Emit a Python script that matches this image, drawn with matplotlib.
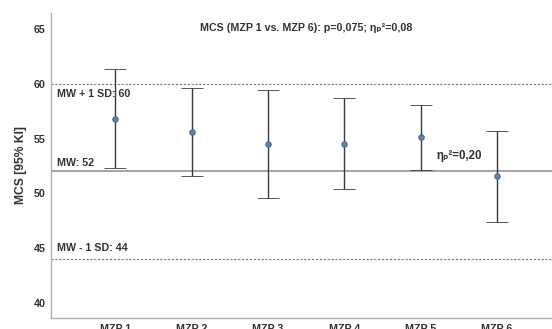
import matplotlib
matplotlib.use("Agg")
import matplotlib.pyplot as plt

plt.rcParams['font.family'] = ['Liberation Sans', 'DejaVu Sans']

# MCS means with 95% confidence limits per measurement point
labels = ["MZP 1", "MZP 2", "MZP 3", "MZP 4", "MZP 5", "MZP 6"]
means = [56.8, 55.6, 54.5, 54.5, 55.1, 51.6]
ci_low = [52.3, 51.6, 49.6, 50.4, 52.1, 47.4]
ci_high = [61.3, 59.6, 59.4, 58.7, 58.1, 55.7]

# reference values (mean and +/- 1 SD)
mw = 52
mw_plus = 60
mw_minus = 44

fig = plt.figure(figsize=(5.52, 3.29), dpi=100)
ax = fig.add_axes([0.0924, 0.0334, 0.9076, 0.9271])

x = list(range(len(labels)))
err_lo = [m - l for m, l in zip(means, ci_low)]
err_hi = [h - m for m, h in zip(means, ci_high)]

ax.axhline(mw, color='#8a8a8a', lw=1.1, zorder=1)
ax.axhline(mw_plus, color='#777777', lw=0.8, ls=(0, (2, 1.5)), zorder=1)
ax.axhline(mw_minus, color='#777777', lw=0.8, ls=(0, (2, 1.5)), zorder=1)

ax.errorbar(x, means, yerr=[err_lo, err_hi], fmt='o', color='#3a3a3a',
            ecolor='#3a3a3a', elinewidth=1.0, capsize=8, capthick=1.0,
            markersize=4, markerfacecolor='#5d82ad', markeredgecolor='#3f5f86',
            markeredgewidth=0.6, zorder=3)

ax.set_xlim(-0.84, 5.72)
ax.set_ylim(38.64, 66.45)
ax.set_xticks(x)
ax.set_xticklabels(labels)
ax.set_yticks([40, 45, 50, 55, 60, 65])
ax.tick_params(axis='both', length=0, labelsize=7.7, labelcolor='#333333')
ax.tick_params(axis='x', pad=4.5)
ax.tick_params(axis='y', pad=4)
for lbl in ax.get_xticklabels() + ax.get_yticklabels():
    lbl.set_fontweight('bold')

for side in ['top', 'right']:
    ax.spines[side].set_visible(False)
for side in ['left', 'bottom']:
    ax.spines[side].set_color('#b0b0b0')
    ax.spines[side].set_linewidth(1.0)

ax.set_ylabel("MCS [95% KI]", fontsize=8.7, fontweight='bold', color='#333333', labelpad=5)

txt = dict(fontsize=7.7, fontweight='bold', color='#333333', va='center')
ax.text(-0.76, 59.1, "MW + 1 SD: 60", ha='left', **txt)
ax.text(-0.76, 52.8, "MW: 52", ha='left', **txt)
ax.text(-0.76, 45.0, "MW - 1 SD: 44", ha='left', **txt)
ax.text(4.21, 53.45, "ηₚ²=0,20", ha='left', fontsize=8.3, fontweight='bold',
        color='#333333', va='center')
ax.text(2.5, 65.1, "MCS (MZP 1 vs. MZP 6): p=0,075; ηₚ²=0,08", ha='center', **txt)

fig.savefig("out.png", dpi=100)
